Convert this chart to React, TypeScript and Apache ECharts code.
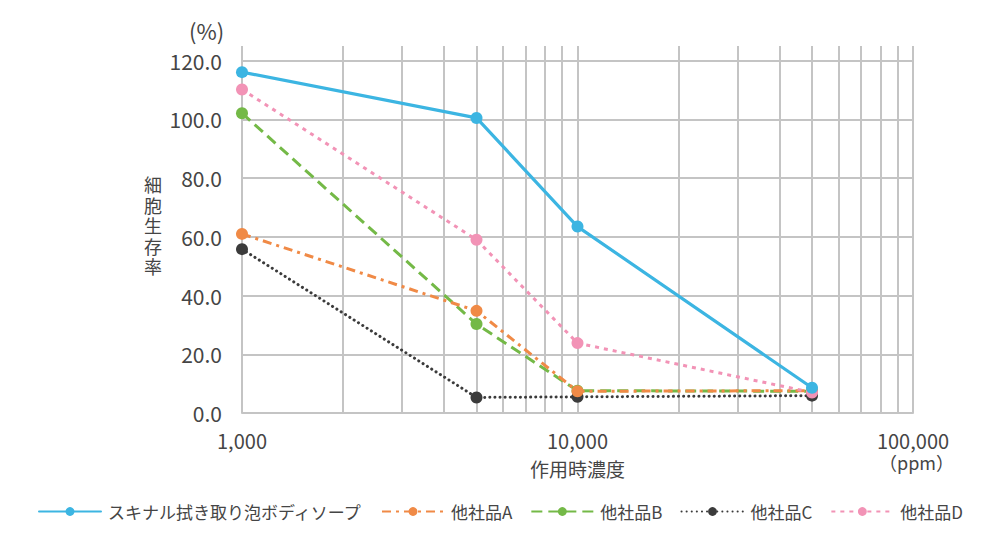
import { useEffect, useRef } from 'react'
import * as echarts from 'echarts'

// 作用時濃度 (ppm)
const concentrations = [1000, 5000, 10000, 50000]

// 細胞生存率 (%)
const skinalValues = [116.1, 100.5, 63.5, 8.6]
const otherA = [61.0, 34.8, 7.4, 7.6]
const otherB = [102.1, 30.3, 7.6, 7.4]
const otherC = [55.8, 5.3, 5.5, 5.9]
const otherD = [110.2, 59.0, 23.8, 7.0]

const seriesNames = ['スキナル拭き取り泡ボディソープ', '他社品A', '他社品B', '他社品C', '他社品D']

// log-scale minor grid lines
const minorTicks = [2000, 3000, 4000, 5000, 6000, 7000, 8000, 9000, 20000, 30000, 40000, 50000, 60000, 70000, 80000, 90000]

const yAxisNameChars = ['細', '胞', '生', '存', '率']

const FONT = '"Noto Sans CJK JP", "Noto Sans", sans-serif'
const GRID_COLOR = '#c4c4c4'
const TEXT_COLOR = '#454545'

const pairs = (vals: number[]) => concentrations.map((c, i) => [c, vals[i]])

export default function App() {
  const elRef = useRef<HTMLDivElement | null>(null)

  useEffect(() => {
    if (!elRef.current) return
    const chart = echarts.init(elRef.current, undefined, { renderer: 'svg' })

    const mk = (name: string, vals: number[], color: string, width: number, type: any, cap: string, z: number) => ({
      name,
      type: 'line',
      data: pairs(vals),
      symbol: 'circle',
      symbolSize: 12,
      z,
      itemStyle: { color },
      lineStyle: { color, width, type, cap },
    })

    chart.setOption({
      animation: false,
      textStyle: { fontFamily: FONT },
      grid: { left: 242, right: 87, top: 46, bottom: 130, containLabel: false },
      xAxis: {
        type: 'log',
        logBase: 10,
        min: 1000,
        max: 100000,
        name: '作用時濃度',
        nameLocation: 'middle',
        nameGap: 46,
        nameTextStyle: { color: TEXT_COLOR, fontSize: 19, fontFamily: FONT },
        axisLine: { show: true, lineStyle: { color: GRID_COLOR, width: 2 } },
        axisTick: { show: false },
        axisLabel: {
          color: TEXT_COLOR,
          fontSize: 20,
          fontFamily: FONT,
          margin: 17,
          formatter: (v: number) => Math.round(v).toLocaleString('en-US'),
        },
        splitLine: { show: true, lineStyle: { color: GRID_COLOR, width: 2 } },
      },
      yAxis: {
        type: 'value',
        min: 0,
        max: 125,
        interval: 20,
        axisLine: { show: false },
        axisTick: { show: false },
        axisLabel: {
          color: TEXT_COLOR,
          fontSize: 21,
          fontFamily: FONT,
          margin: 20,
          showMaxLabel: false,
          formatter: (v: number) => v.toFixed(1),
        },
        splitLine: { show: true, showMaxLine: false, lineStyle: { color: GRID_COLOR, width: 2 } },
      },
      legend: {
        left: 33,
        top: 498,
        itemWidth: 62,
        itemHeight: 11,
        itemGap: 18,
        textStyle: { color: TEXT_COLOR, fontSize: 17, fontFamily: FONT, padding: [0, 0, 0, 2] },
        data: seriesNames,
      },
      graphic: [
        {
          type: 'text',
          left: 189,
          top: 19,
          style: { text: '(%)', fill: TEXT_COLOR, font: `22px ${FONT}` },
        },
        ...yAxisNameChars.map((ch, i) => ({
          type: 'text',
          left: 144,
          top: 174 + i * 20.6,
          style: { text: ch, fill: TEXT_COLOR, font: `18px ${FONT}`, lineHeight: 20 },
        })),
        {
          type: 'text',
          right: 46,
          top: 453,
          style: { text: '（ppm）', fill: TEXT_COLOR, font: `18px ${FONT}` },
        },
      ],
      series: [
        {
          ...mk(seriesNames[0], skinalValues, '#3cb5e2', 3.2, 'solid', 'round', 10),
          markLine: {
            silent: true,
            symbol: 'none',
            label: { show: false },
            lineStyle: { color: GRID_COLOR, width: 2, type: 'solid' },
            emphasis: { disabled: true },
            z: 1,
            data: minorTicks.map((v) => ({ xAxis: v })),
          },
        },
        mk(seriesNames[1], otherA, '#f08a46', 3, [9, 5, 3, 5], 'butt', 8),
        mk(seriesNames[2], otherB, '#74b947', 3, [11, 6], 'butt', 7),
        mk(seriesNames[3], otherC, '#3b3b3b', 3, [0.1, 5], 'round', 6),
        mk(seriesNames[4], otherD, '#f293b6', 3, [4, 5], 'butt', 9),
      ],
    })

    return () => {
      chart.dispose()
    }
  }, [])

  return <div ref={elRef} style={{ position: 'fixed', left: 0, top: 0, width: 1000, height: 543, background: '#fff' }} />
}
